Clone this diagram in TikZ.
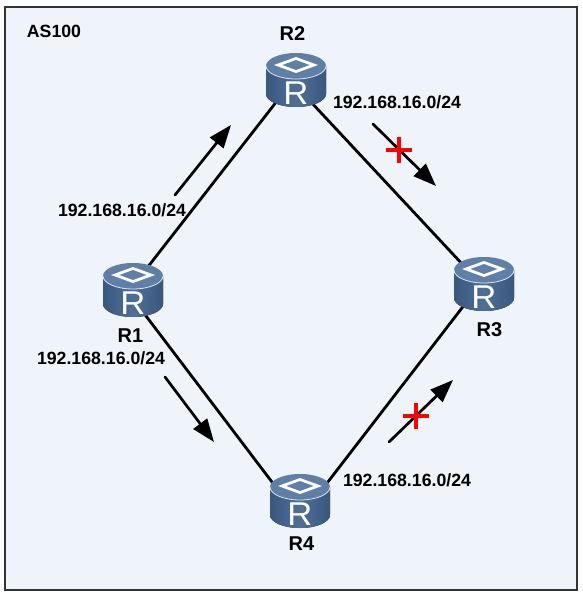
\documentclass[tikz,border=0pt]{standalone}
\usepackage{fontspec}
\setmainfont{Liberation Sans}
\usetikzlibrary{arrows.meta}
\definecolor{bgfill}{HTML}{EFF3FA}
\definecolor{bodyedge}{HTML}{3A587E}
\definecolor{bodymid}{HTML}{4E6F98}
\definecolor{topfill}{HTML}{5F7FA6}
\tikzset{
  x=1bp,y=-1bp,
  routerbox/.style={minimum width=60bp,minimum height=54bp,inner sep=0pt,outer sep=0pt},
  link/.style={line width=2.8bp,black},
  flow/.style={line width=2.7bp,black,line cap=round,-{Triangle[length=23bp,width=17bp]}},
  lbl/.style={font=\fontsize{17.7bp}{19bp}\selectfont\bfseries,inner sep=0pt,text=black},
  nm/.style={font=\fontsize{20bp}{21bp}\selectfont\bfseries,inner sep=0pt,text=black},
  crossmark/.style={line width=3.2bp,red},
  pics/routerglyph/.style={code={
    \fill[left color=bodyedge,right color=bodyedge,middle color=bodymid]
      (-30,-14) -- (-30,14) arc[x radius=30,y radius=13,start angle=180,end angle=0] -- (30,-14) -- cycle;
    \fill[topfill] (0,-14) ellipse[x radius=30,y radius=13];
    \draw[white!80!topfill,line width=.8bp] (-30,-14) arc[x radius=30,y radius=13,start angle=180,end angle=0];
    \fill[white] (-22,-15) -- (0,-23) -- (22,-15) -- (0,-7) -- cycle;
    \fill[topfill] (-13.5,-15) -- (0,-20) -- (13.5,-15) -- (0,-10) -- cycle;
    \node[white,inner sep=0pt,font=\fontsize{33bp}{33bp}\selectfont,xscale=1.05,transform shape] at (0,13) {R};
  }}
}
\begin{document}
\begin{tikzpicture}
\useasboundingbox (0,0) rectangle (583,596);
\draw[fill=bgfill,draw=black!80,line width=1.6bp] (5,7) rectangle (577,590);
\node[routerbox] (R1) at (133,290) {};
\node[routerbox] (R2) at (296,80) {};
\node[routerbox] (R3) at (484,284) {};
\node[routerbox] (R4) at (300,501) {};
\draw[link] ([shift={(14bp,22bp)}]R1.center) -- ([shift={(-19bp,-21bp)}]R2.center);
\draw[link] ([shift={(14bp,-21bp)}]R2.center) -- ([shift={(-20bp,18bp)}]R3.center);
\draw[link] ([shift={(-19bp,-20bp)}]R3.center) -- ([shift={(24bp,14bp)}]R4.center);
\draw[link] ([shift={(10bp,-22bp)}]R1.center) -- ([shift={(-25bp,15bp)}]R4.center);
\pic at (R1) {routerglyph};
\pic at (R2) {routerglyph};
\pic at (R3) {routerglyph};
\pic at (R4) {routerglyph};
\coordinate (a1s) at (175,195); \coordinate (a1e) at (231,125);
\coordinate (a2s) at (165,377); \coordinate (a2e) at (214,442);
\coordinate (a3s) at (373,124); \coordinate (a3e) at (436,186);
\coordinate (a4s) at (389,442); \coordinate (a4e) at (453,380);
\draw[flow] (a1s) -- (a1e);
\draw[flow] (a2s) -- (a2e);
\draw[flow] (a3s) -- (a3e);
\draw[flow] (a4s) -- (a4e);
\coordinate (c1) at (399,150);
\coordinate (c2) at (416,416);
\draw[crossmark] ([xshift=-13bp]c1) -- ([xshift=13bp]c1);
\draw[crossmark] ([yshift=-13bp]c1) -- ([yshift=13bp]c1);
\draw[crossmark] ([xshift=-13bp]c2) -- ([xshift=13bp]c2);
\draw[crossmark] ([yshift=-13bp]c2) -- ([yshift=13bp]c2);
\node[lbl] (as) at (54,31) {AS100};
\node[nm] (n2) at (292.5,34) {R2};
\node[nm] (n1) at (130.5,336) {R1};
\node[nm] (n3) at (489.5,330) {R3};
\node[nm] (n4) at (301.5,544) {R4};
\node[lbl] (l1) at (122,210) {192.168.16.0/24};
\node[lbl] (l2) at (397,102) {192.168.16.0/24};
\node[lbl] (l3) at (101,358) {192.168.16.0/24};
\node[lbl] (l4) at (407,480) {192.168.16.0/24};
\end{tikzpicture}
\end{document}
